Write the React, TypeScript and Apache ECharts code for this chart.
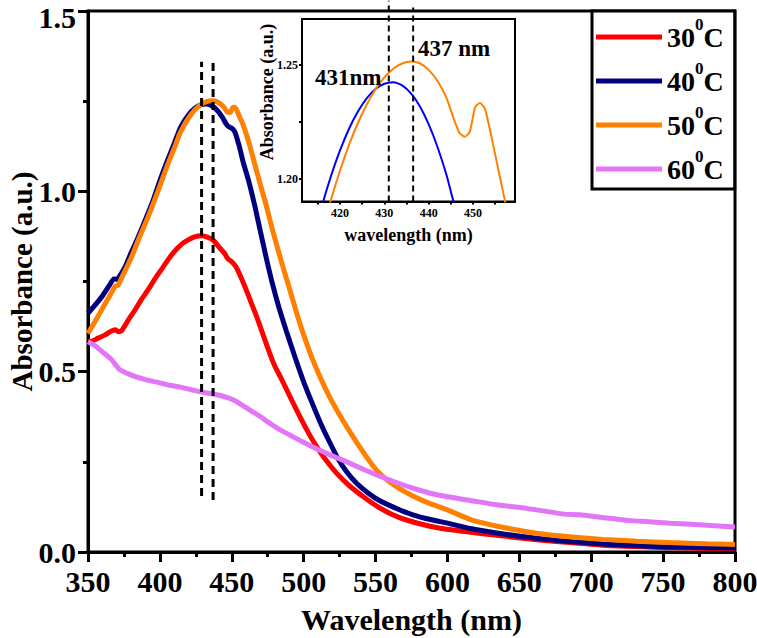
import React, { useEffect, useRef } from "react";
import * as echarts from "echarts";

// 30 °C
const wl30 = [350, 353, 357, 362, 366, 369, 371, 373, 378, 383, 387, 392, 396, 401, 406, 410, 415, 420, 424, 429, 433, 437, 441, 445, 447, 450, 453, 456, 460, 464, 468, 472, 476, 480, 484, 490, 495, 502, 509, 516, 523, 532, 542, 553, 565, 580, 595, 616, 639, 662, 685, 708, 732, 755, 780, 800];
const abs30 = [0.583, 0.585, 0.593, 0.602, 0.612, 0.616, 0.611, 0.612, 0.643, 0.673, 0.699, 0.728, 0.754, 0.783, 0.812, 0.833, 0.853, 0.866, 0.874, 0.877, 0.873, 0.865, 0.846, 0.828, 0.814, 0.805, 0.79, 0.765, 0.727, 0.686, 0.645, 0.6, 0.555, 0.515, 0.484, 0.435, 0.394, 0.34, 0.292, 0.252, 0.218, 0.183, 0.152, 0.122, 0.098, 0.079, 0.066, 0.055, 0.044, 0.034, 0.026, 0.019, 0.015, 0.012, 0.01, 0.009];

// 40 °C
const wl40 = [350, 355, 360, 365, 368, 370, 372, 376, 380, 385, 390, 395, 400, 405, 410, 414, 416, 418, 420, 422, 424, 426, 428, 430, 432, 434, 436, 438, 440, 442, 444, 446, 448, 450, 452, 455, 458, 462, 466, 470, 474, 478, 483, 488, 494, 500, 506, 512, 518, 524, 530, 537, 545, 553, 565, 576, 588, 600, 616, 639, 662, 685, 708, 732, 755, 780, 800];
const abs40 = [0.662, 0.685, 0.71, 0.74, 0.757, 0.756, 0.765, 0.792, 0.83, 0.874, 0.922, 0.972, 1.03, 1.083, 1.133, 1.174, 1.1887, 1.2015, 1.2125, 1.2218, 1.2293, 1.2352, 1.2393, 1.2416, 1.2423, 1.2409, 1.2374, 1.2318, 1.2239, 1.2139, 1.2018, 1.1875, 1.179, 1.175, 1.166, 1.128, 1.08, 1.025, 0.96, 0.887, 0.815, 0.748, 0.675, 0.612, 0.54, 0.472, 0.412, 0.355, 0.305, 0.258, 0.222, 0.19, 0.163, 0.142, 0.12, 0.103, 0.09, 0.08, 0.065, 0.05, 0.038, 0.029, 0.022, 0.017, 0.014, 0.012, 0.011];

// 50 °C
const wl50 = [350, 355, 360, 365, 369, 371, 374, 380, 385, 390, 395, 400, 405, 410, 414, 416, 418, 420, 422, 424, 426, 428, 430, 432, 434, 436, 438, 440, 442, 444, 446, 447, 448.2, 449.3, 450.5, 451.6, 452.7, 454, 456, 458, 460, 463, 466, 470, 474, 478, 482, 486, 490, 495, 500, 506, 512, 518, 524, 530, 538, 548, 556, 565, 576, 588, 600, 616, 639, 662, 685, 708, 732, 755, 780, 800];
const abs50 = [0.606, 0.64, 0.675, 0.71, 0.737, 0.74, 0.765, 0.815, 0.865, 0.912, 0.962, 1.015, 1.07, 1.12, 1.1617, 1.1771, 1.1911, 1.2036, 1.2147, 1.2243, 1.2324, 1.2392, 1.2444, 1.2482, 1.2505, 1.2514, 1.2506, 1.2477, 1.2428, 1.2355, 1.2245, 1.2199, 1.2184, 1.2206, 1.2314, 1.2332, 1.2307, 1.22, 1.2015, 1.183, 1.16, 1.12, 1.075, 1.017, 0.96, 0.898, 0.84, 0.785, 0.732, 0.664, 0.602, 0.536, 0.48, 0.43, 0.387, 0.347, 0.297, 0.24, 0.206, 0.18, 0.155, 0.134, 0.117, 0.09, 0.068, 0.052, 0.042, 0.035, 0.03, 0.026, 0.023, 0.021];

// 60 °C
const wl60 = [350, 355, 360, 366, 369, 372, 377, 383, 390, 398, 406, 414, 422, 430, 437, 442, 447, 452, 458, 464, 470, 476, 483, 490, 498, 506, 514, 522, 530, 541, 553, 565, 576, 588, 600, 616, 634, 655, 670, 681, 692, 705, 716, 727, 740, 755, 778, 800];
const abs60 = [0.583, 0.572, 0.555, 0.535, 0.52, 0.506, 0.496, 0.486, 0.478, 0.471, 0.463, 0.457, 0.45, 0.443, 0.438, 0.434, 0.428, 0.42, 0.405, 0.39, 0.375, 0.358, 0.34, 0.325, 0.308, 0.292, 0.277, 0.263, 0.25, 0.23, 0.21, 0.192, 0.177, 0.163, 0.153, 0.143, 0.131, 0.121, 0.112, 0.105, 0.103, 0.097, 0.092, 0.087, 0.084, 0.08, 0.075, 0.069];

const seriesNames = ["30", "40", "50", "60"];
const seriesColors = ["#ff0000", "#00007f", "#ff8000", "#e276f6"];

// peak markers (main) and inset markers
const mainMarkerWl = [429, 437];
const mainMarkerTop = [1.359, 1.359];
const mainMarkerBottom = [0.155, 0.144];
const insetMarkerWl = [431, 436.5];
const insetMarkerTop = [1.278, 1.275];
const insetMarkerBottom = [1.19, 1.19];
const insetLabels = ["431nm", "437 nm"];

const xTicks = { min: 350, max: 800, interval: 50 };
const yTicks = { min: 0, max: 1.5, interval: 0.5 };
const insetXLabelValues = [420, 430, 440, 450];
const insetXTickValues = [415, 420, 425, 430, 435, 440, 445, 450, 455];
const insetYLabelValues = [1.2, 1.25];
const insetYTickValues = [1.2, 1.225, 1.25];

const FONT = "'Liberation Serif', 'Times New Roman', serif";

function zip(xs: number[], ys: number[]) {
  return xs.map((x, i) => [x, ys[i]]);
}

export default function App() {
  const ref = useRef<HTMLDivElement>(null);
  useEffect(() => {
    if (!ref.current) return;
    const chart = echarts.init(ref.current, undefined, { renderer: "svg" });
    const wls = [wl30, wl40, wl50, wl60];
    const abss = [abs30, abs40, abs50, abs60];

    const axisBlack = { color: "#000" };
    const mainSeries = seriesNames.map((n, i) => ({
      name: n,
      type: "line",
      xAxisIndex: 0,
      yAxisIndex: 0,
      data: zip(wls[i], abss[i]),
      showSymbol: false,
      symbol: "none",
      smooth: 0.2,
      color: seriesColors[i],
      lineStyle: { width: 5, color: seriesColors[i] },
      itemStyle: { color: seriesColors[i] },
      z: 3 + i,
    }));

    const mainMarkers = mainMarkerWl.map((w, i) => ({
      name: "mk" + i,
      type: "line",
      xAxisIndex: 0,
      yAxisIndex: 0,
      data: [
        [w, mainMarkerBottom[i]],
        [w, mainMarkerTop[i]],
      ],
      symbol: "none",
      silent: true,
      lineStyle: { width: 3, color: "#000", type: [8, 5] },
      z: 10,
    }));

    const insetSeries = [
      { name: "in40", data: zip(wl40, abs40), color: "#0000ff" },
      { name: "in50", data: zip(wl50, abs50), color: "#ff8000" },
    ].map((s) => ({
      name: s.name,
      type: "line",
      xAxisIndex: 1,
      yAxisIndex: 1,
      data: s.data,
      symbol: "none",
      smooth: 0.2,
      clip: true,
      lineStyle: { width: 2, color: s.color },
      z: 20,
    }));

    const insetMarkers = insetMarkerWl.map((w, i) => ({
      name: "imk" + i,
      type: "line",
      xAxisIndex: 1,
      yAxisIndex: 1,
      data: [
        [w, insetMarkerBottom[i]],
        [w, insetMarkerTop[i]],
      ],
      symbol: "none",
      silent: true,
      clip: false,
      lineStyle: { width: 2, color: "#000", type: [6, 4] },
      z: 21,
    }));

    const labelFont = { fontFamily: FONT, fontWeight: "bold", fontSize: 30, color: "#000" };

    chart.setOption({
      animation: false,
      backgroundColor: "#fff",
      grid: [
        { left: 88, top: 11, width: 647, height: 541, show: true, borderColor: "#000", borderWidth: 3, backgroundColor: "transparent", containLabel: false, outerBoundsMode: "none" },
        { left: 302, top: 19, width: 213, height: 182.5, show: true, borderColor: "#000", borderWidth: 2, backgroundColor: "#fff", z: 4, containLabel: false, outerBoundsMode: "none" },
      ],
      legend: {
        data: seriesNames,
        left: 592,
        top: 11,
        orient: "vertical",
        icon: "rect",
        itemWidth: 66,
        itemHeight: 5,
        itemGap: 9,
        padding: [5, 11, 6, 4],
        backgroundColor: "#fff",
        borderColor: "#000",
        borderWidth: 3,
        formatter: (name: string) => `{n|${name}}{s|0}{n|C}`,
        textStyle: {
          fontFamily: FONT,
          fontWeight: "bold",
          fontSize: 28,
          color: "#000",
          rich: {
            n: { fontFamily: FONT, fontWeight: "bold", fontSize: 28, lineHeight: 42, color: "#000" },
            s: { fontFamily: FONT, fontWeight: "bold", fontSize: 17, lineHeight: 20, verticalAlign: "top", color: "#000" },
          },
        },
      },
      xAxis: [
        {
          type: "value",
          gridIndex: 0,
          min: xTicks.min,
          max: xTicks.max,
          interval: xTicks.interval,
          axisLine: { lineStyle: { ...axisBlack, width: 3 } },
          axisTick: { length: 10, lineStyle: { ...axisBlack, width: 3 } },
          minorTick: { show: true, splitNumber: 2, length: 5, lineStyle: { ...axisBlack, width: 3 } },
          splitLine: { show: false },
          axisLabel: { ...labelFont, margin: 14 },
          name: "Wavelength (nm)",
          nameLocation: "middle",
          nameGap: 52,
          nameMoveOverlap: false,
          nameTextStyle: { ...labelFont },
        },
        {
          type: "value",
          gridIndex: 1,
          min: 411.4,
          max: 459.5,
          axisLine: { lineStyle: { ...axisBlack, width: 2 } },
          axisTick: { length: 3, customValues: insetXTickValues, lineStyle: { ...axisBlack, width: 2 } },
          splitLine: { show: false },
          axisLabel: { customValues: insetXLabelValues, fontFamily: FONT, fontWeight: "bold", fontSize: 12, color: "#000", margin: 5 },
          name: "wavelength (nm)",
          nameLocation: "middle",
          nameGap: 24,
          nameMoveOverlap: false,
          nameTextStyle: { fontFamily: FONT, fontWeight: "bold", fontSize: 18, color: "#000" },
        },
      ],
      yAxis: [
        {
          type: "value",
          gridIndex: 0,
          min: yTicks.min,
          max: yTicks.max,
          interval: yTicks.interval,
          axisLine: { show: true, lineStyle: { ...axisBlack, width: 3 } },
          axisTick: { show: true, length: 10, lineStyle: { ...axisBlack, width: 3 } },
          minorTick: { show: true, splitNumber: 2, length: 5, lineStyle: { ...axisBlack, width: 3 } },
          splitLine: { show: false },
          axisLabel: {
            ...labelFont,
            margin: 12,
            formatter: (v: number) => (v >= yTicks.max ? `{t|${v.toFixed(1)}}` : v.toFixed(1)),
            rich: { t: { ...labelFont, padding: [12, 0, 0, 0] } },
          },
          name: "Absorbance (a.u.)",
          nameLocation: "middle",
          nameGap: 52,
          nameMoveOverlap: false,
          nameTextStyle: { fontFamily: FONT, fontWeight: "bold", fontSize: 29, color: "#000" },
        },
        {
          type: "value",
          gridIndex: 1,
          min: 1.19,
          max: 1.27,
          axisLine: { show: true, lineStyle: { ...axisBlack, width: 2 } },
          axisTick: { show: true, length: 3, customValues: insetYTickValues, lineStyle: { ...axisBlack, width: 2 } },
          splitLine: { show: false },
          axisLabel: { customValues: insetYLabelValues, fontFamily: FONT, fontWeight: "bold", fontSize: 12, color: "#000", margin: 4, formatter: (v: number) => v.toFixed(2) },
        },
      ],
      graphic: [
        { type: "text", x: 267, y: 92, rotation: Math.PI / 2, z: 100, style: { text: "Absorbance (a.u.)", fontFamily: FONT, fontWeight: "bold", fontSize: 18, fill: "#000", verticalAlign: "middle", align: "center" } },
        { type: "text", x: 315, y: 77, z: 100, style: { text: insetLabels[0], fontFamily: FONT, fontWeight: "bold", fontSize: 23, fill: "#000", verticalAlign: "middle", align: "left" } },
        { type: "text", x: 418, y: 48, z: 100, style: { text: insetLabels[1], fontFamily: FONT, fontWeight: "bold", fontSize: 23, fill: "#000", verticalAlign: "middle", align: "left" } },
      ],
      series: [...mainSeries, ...mainMarkers, ...insetSeries, ...insetMarkers],
    });
    return () => chart.dispose();
  }, []);
  return <div ref={ref} style={{ position: "absolute", left: 0, top: 0, width: 757, height: 638 }} />;
}
